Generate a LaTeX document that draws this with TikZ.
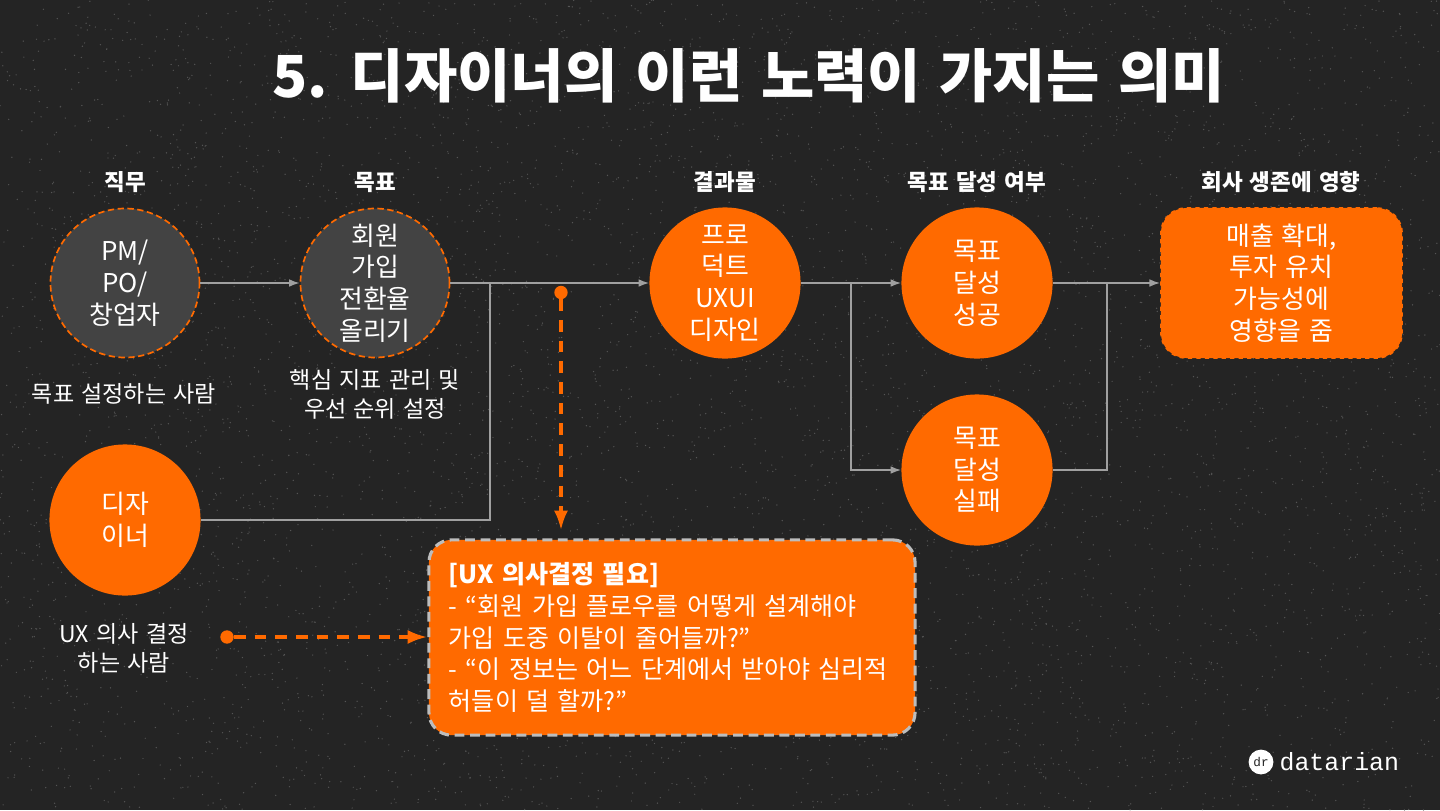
\documentclass[tikz,border=0pt]{standalone}
\usepackage{fontspec}
\setmainfont[WordSpace=1.4]{Noto Sans CJK KR}
\newfontfamily\logofont{Liberation Mono}
\usetikzlibrary{arrows.meta,positioning,calc}
\definecolor{bgdark}{HTML}{242424}
\definecolor{grain}{HTML}{555555}
\definecolor{brandorange}{HTML}{FF6A00}
\definecolor{circgray}{HTML}{434343}
\definecolor{linegray}{HTML}{A0A0A0}
\definecolor{boxgray}{HTML}{BDBDBD}

\begin{document}
\begin{tikzpicture}[x=0.025cm, y=-0.025cm, font=\fontsize{18.4}{22.6}\selectfont, text=white,
  head/.style={font=\fontsize{16}{20}\selectfont\bfseries, align=center},
  note/.style={font=\fontsize{16.4}{20.8}\selectfont, align=center},
  role/.style={circle, draw=brandorange, dashed, line width=1.2pt, dash pattern=on 4.5pt off 2.5pt, fill=circgray, minimum size=2.66cm*1.4, inner sep=0pt, align=center},
  solid/.style={circle, fill=brandorange, minimum size=2.66cm*1.42, inner sep=0pt, align=center},
  arr/.style={-{Latex[length=7.5pt,width=5.5pt]}, line width=1.1pt, draw=linegray},
  link/.style={line width=1.1pt, draw=linegray},
  note arr/.style={-{Latex[length=14pt,width=10pt]}, line width=2.6pt, draw=brandorange, dash pattern=on 8.3pt off 6.4pt},
  dot/.style={circle, fill=brandorange, minimum size=9.5pt, inner sep=0pt}]
  \fill[bgdark] (0,0) rectangle (1440,810);
  \useasboundingbox (0,0) rectangle (1440,810);
  % grain of the background
  \pgfmathsetseed{7}
  \foreach \i in {1,...,6000}
    \fill[grain] (1440*rnd,810*rnd) circle (0.7);

  \node[font=\fontsize{41.2}{50}\selectfont\bfseries] (title) at (748.5,76) {5. 디자이너의 이런 노력이 가지는 의미};

  \node[head] (h1) at (125,182) {직무};
  \node[head] (h2) at (375,182) {목표};
  \node[head] (h3) at (725,182) {결과물};
  \node[head] (h4) at (977,182) {목표 달성 여부};
  \node[head] (h5) at (1281,182) {회사 생존에 영향};

  \node[role] (pm) at (125,283) {PM/\\PO/\\창업자};
  \node[role] (goal) at (375,283) {회원\\가입\\전환율\\올리기};
  \node[solid] (product) at (725,283) {프로\\덕트\\UXUI\\디자인};
  \node[solid] (success) at (977,283) {목표\\달성\\성공};
  \node[solid] (fail) at (977,470) {목표\\달성\\실패};
  \node[solid] (designer) at (125,520) {디자\\이너};
  \node[fill=brandorange, draw=brandorange, dashed, line width=1.2pt, rounded corners=18pt, minimum width=6.03cm, minimum height=3.75cm, align=center] (impact) at (1281.5,283) {매출 확대,\\투자 유치\\가능성에\\영향을 줌};

  \node[note] (n1) at (124,394) {목표 설정하는 사람};
  \node[note] (n2) at (375,394) {핵심 지표 관리 및\\우선 순위 설정};
  \node[note] (n3) at (124,648) {UX 의사 결정\\하는 사람};

  \node[fill=brandorange, draw=boxgray, line width=2.2pt, dash pattern=on 7pt off 4pt, rounded corners=16pt, minimum width=12.15cm, minimum height=4.88cm, align=left, text width=11.15cm, font=\fontsize{17.8}{22.6}\selectfont, inner sep=0pt] (decision) at (672,637.5) {\textbf{[UX 의사결정 필요]}\\- “회원 가입 플로우를 어떻게 설계해야\\가입 도중 이탈이 줄어들까?”\\- “이 정보는 어느 단계에서 받아야 심리적\\허들이 덜 할까?”};

  \coordinate (join1) at (490,283);
  \coordinate (split) at (851,283);
  \coordinate (join2) at (1107,283);
  \node[dot] (dot1) at (561,292.5) {};
  \node[dot] (dot2) at (227,637) {};

  \draw[arr] (pm) -- (goal);
  \draw[arr] (goal) -- (product);
  \draw[link] (designer) -| (join1);
  \draw[arr] (product) -- (success);
  \draw[arr] (split) |- (fail);
  \draw[arr] (success) -- (impact);
  \draw[link] (fail) -| (join2);
  \draw[note arr] (dot1) -- ($(dot1 |- decision.north)+(0,-8)$);
  \draw[note arr] (dot2) -- (decision.west |- dot2);

  \node[circle, fill=white, minimum size=0.62cm, inner sep=0pt, text=bgdark, font=\logofont\fontsize{9}{9}\selectfont] (logo) at (1261,762) {dr};
  \node[right=0.14cm of logo, inner sep=0pt, font=\logofont\fontsize{17.7}{18}\selectfont] (brand) {datarian};
\end{tikzpicture}
\end{document}
